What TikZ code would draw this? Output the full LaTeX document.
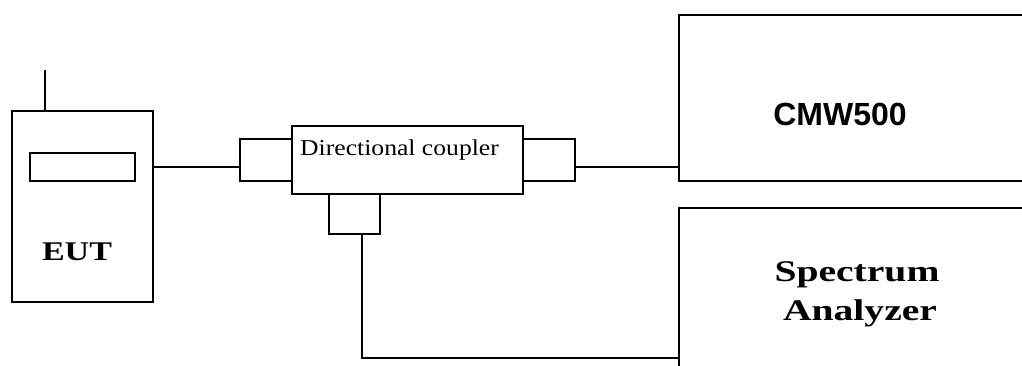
\documentclass[tikz,border=0pt]{standalone}
\usepackage{fontspec}
\setmainfont{Liberation Serif}
\newfontfamily\eutfont[FakeStretch=1.26]{Liberation Serif}
\newfontfamily\safont[FakeStretch=1.32]{Liberation Serif}
\newfontfamily\cpfont[FakeStretch=1.13]{Liberation Serif}
\newfontfamily\cmwfont{Liberation Sans}
\tikzset{
    unit/.style={draw, line width=2.8pt, inner sep=0pt},
    wire/.style={line width=2.2pt}
}

\begin{document}
\begin{tikzpicture}[x=1pt, y=-1pt]
            \clip (0, 0) rectangle (1022, 365);
            \node[unit, minimum width=141, minimum height=191] (eut) at (82.5, 206.5) {};
            \node[unit, minimum width=105, minimum height=28] (display) at (82.5, 167) {};
            \node[unit, minimum width=231, minimum height=68] (coupler) at (407.5, 160) {};
            \node[unit, minimum width=52, minimum height=42] (lport) at (266, 160) {};
            \node[unit, minimum width=52, minimum height=42] (rport) at (549, 160) {};
            \node[unit, minimum width=51, minimum height=40] (cport) at (354.5, 214) {};
            \node[unit, minimum width=380, minimum height=166] (cmw) at (869, 98) {};
            \node[unit, minimum width=380, minimum height=200] (sa) at (869, 308) {};
            \coordinate (ant) at (45, 70);
            \coordinate (feed) at (362, 358);
            \draw[wire] (ant) -- (ant |- eut.north);
            \draw[wire] (eut.east |- display) -- (lport.west |- display);
            \draw[wire] (rport.east |- display) -- (cmw.west |- display);
            \draw[wire] (cport.south -| feed) -- (feed) -- (sa.west |- feed);
            \node[anchor=base west, inner sep=0pt] (cptext) at (300, 155) {\cpfont\fontsize{22.7}{26}\selectfont Directional coupler};
            \node[anchor=base, inner sep=0pt] (euttext) at (77, 260) {\eutfont\fontsize{27}{30}\selectfont\bfseries EUT};
            \node[anchor=base, inner sep=0pt] (cmwtext) at (840, 125) {\cmwfont\fontsize{32}{36}\selectfont\bfseries CMW500};
            \node[anchor=base, inner sep=0pt] (satext) at (857, 281) {\safont\fontsize{30}{32}\selectfont\bfseries Spectrum};
            \node[anchor=base, inner sep=0pt] (satext2) at (860, 320) {\safont\fontsize{30}{32}\selectfont\bfseries Analyzer};
        \end{tikzpicture}
\end{document}
